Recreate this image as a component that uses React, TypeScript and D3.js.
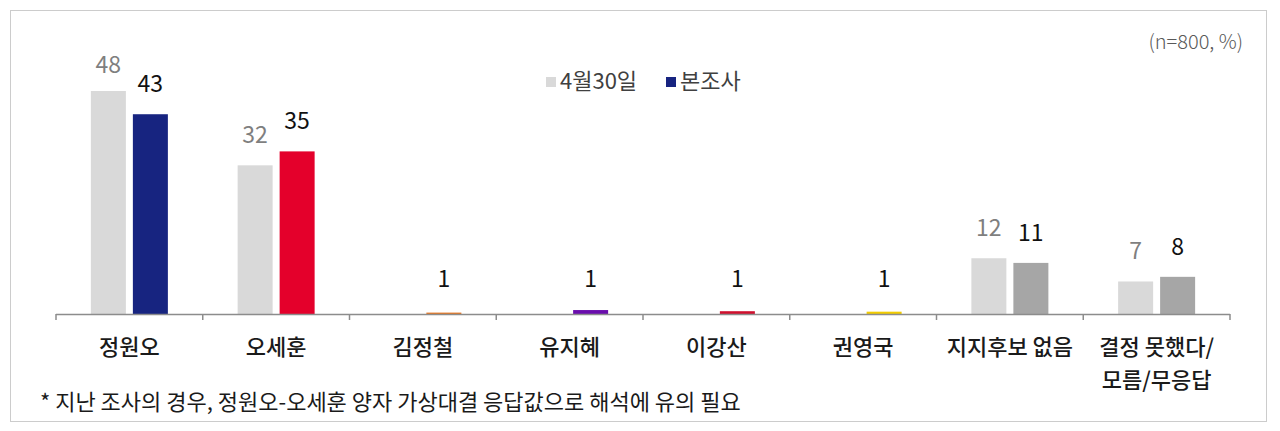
import * as d3 from 'd3'

const categories = ['정원오', '오세훈', '김정철', '유지혜', '이강산', '권영국', '지지후보 없음', '결정 못했다/|모름/무응답']
const prevValues: (number | null)[] = [48, 32, null, null, null, null, 12, 7]
const currValues = [43, 35, 0.3, 0.85, 0.6, 0.5, 11, 8]
const currLabels = ['43', '35', '1', '1', '1', '1', '11', '8']
const currColors = ['#172480', '#e4002b', '#e87722', '#6a0dad', '#d0102e', '#f2cc00', '#a6a6a6', '#a6a6a6']
const legendItems = [
  { label: '4월30일', color: '#d9d9d9' },
  { label: '본조사', color: '#172480' },
]
const note = '* 지난 조사의 경우, 정원오-오세훈 양자 가상대결 응답값으로 해석에 유의 필요'
const unitText = '(n=800, %)'

const W = 1280
const H = 431
const FONT = '"Noto Sans CJK KR", "Noto Sans", sans-serif'

export default function App() {
  const baseY = 314
  const x = d3.scaleBand<string>().domain(categories).range([56, 1230]).paddingInner(0).paddingOuter(0)
  const y = d3.scaleLinear().domain([0, 48]).range([baseY, 91])
  const barW = 35
  const off = 21
  const ticks = [...categories.map((c) => x(c)!), 1230]

  return (
    <svg width={W} height={H} style={{ position: 'absolute', left: 0, top: 0, fontFamily: FONT }}>
      <rect x={10.5} y={10.5} width={1256} height={411} fill="#fff" stroke="#cccccc" strokeWidth={1} />

      <text x={1243} y={49} textAnchor="end" fontSize={20} fontWeight={300} fill="#595959">{unitText}</text>

      {/* legend */}
      <g>
        <rect x={546} y={77} width={10} height={10} fill={legendItems[0].color} />
        <text x={560} y={89} fontSize={22} fill="#404040">{legendItems[0].label}</text>
        <rect x={666} y={77} width={10} height={10} fill={legendItems[1].color} />
        <text x={680} y={89} fontSize={22} fill="#404040">{legendItems[1].label}</text>
      </g>

      {categories.map((c, i) => {
        const cx = x(c)! + x.bandwidth() / 2
        const pv = prevValues[i]
        const cv = currValues[i]
        return (
          <g key={c}>
            {pv != null && (
              <>
                <rect x={cx - off - barW / 2} y={y(pv)} width={barW} height={baseY - y(pv)} fill="#d9d9d9" />
                <text x={cx - off} y={Math.max(y(pv) - 22, 73)} textAnchor="middle" fontSize={23} fill="#7f7f7f">{pv}</text>
              </>
            )}
            <rect x={cx + off - barW / 2} y={y(cv)} width={barW} height={baseY - y(cv)} fill={currColors[i]} />
            <text x={cx + off} y={Math.min(y(cv), baseY - 5) - 22} textAnchor="middle" fontSize={23} fill="#111">{currLabels[i]}</text>
            {c.split('|').map((line, j) => (
              <text key={j} x={cx} y={355 + j * 33} textAnchor="middle" fontSize={22} fontWeight={500} fill="#1a1a1a">{line}</text>
            ))}
          </g>
        )
      })}

      {/* axis */}
      <line x1={56} x2={1230} y1={baseY + 0.5} y2={baseY + 0.5} stroke="#8c8c8c" strokeWidth={1.5} />
      {ticks.map((t, i) => (
        <line key={i} x1={t} x2={t} y1={baseY} y2={baseY + 6} stroke="#8c8c8c" strokeWidth={1.5} />
      ))}

      <text x={40} y={410} fontSize={22} fill="#1a1a1a">{note}</text>
    </svg>
  )
}
